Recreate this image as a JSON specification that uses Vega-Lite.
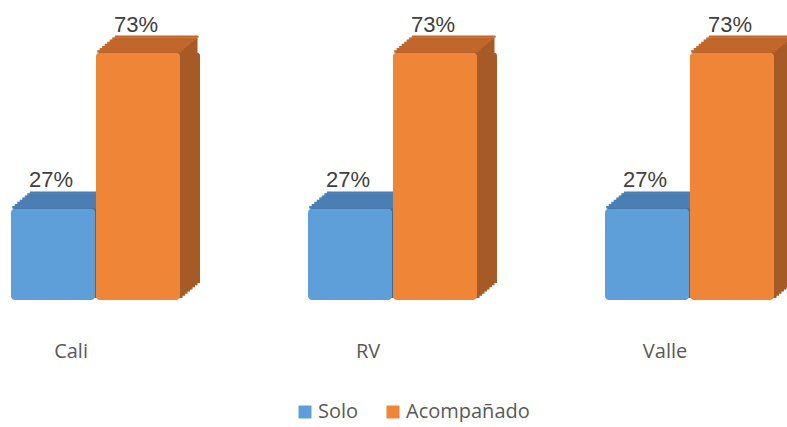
{
  "$schema": "https://vega.github.io/schema/vega-lite/v6.json",
  "padding": {"left": 11, "top": 0, "right": 0, "bottom": 0},
  "background": "white",
  "bounds": "flush",
  "data": {"values": [
    {"region": "Cali", "serie": "Solo", "value": 0.27},
    {"region": "Cali", "serie": "Acompañado", "value": 0.73},
    {"region": "RV", "serie": "Solo", "value": 0.27},
    {"region": "RV", "serie": "Acompañado", "value": 0.73},
    {"region": "Valle", "serie": "Solo", "value": 0.27},
    {"region": "Valle", "serie": "Acompañado", "value": 0.73}
  ]},
  "facet": {"column": {"field": "region", "type": "nominal", "sort": ["Cali", "RV", "Valle"], "header": {"title": null, "labels": false}}},
  "spacing": 128,
  "spec": {
    "width": 169,
    "height": 300,
    "encoding": {
      "x": {"field": "serie", "type": "nominal", "sort": ["Solo", "Acompañado"], "scale": {"paddingInner": 0.01, "paddingOuter": 0}, "axis": null},
      "y": {"field": "value", "type": "quantitative", "scale": {"domain": [0, 0.885]}, "axis": null}
    },
    "layer": [
      {"mark": {"type": "bar", "xOffset": 20, "yOffset": -17, "y2Offset": -17, "cornerRadius": 3}, "encoding": {"fill": {"condition": {"test": "datum.serie == 'Solo'", "value": "#3e6c9c"}, "value": "#a65a26"}}},
      {"mark": {"type": "bar", "xOffset": 17.5, "yOffset": -14.875, "y2Offset": -14.875}, "encoding": {"fill": {"condition": {"test": "datum.serie == 'Solo'", "value": "#3e6c9c"}, "value": "#a65a26"}}},
      {"mark": {"type": "bar", "xOffset": 15, "yOffset": -12.75, "y2Offset": -12.75}, "encoding": {"fill": {"condition": {"test": "datum.serie == 'Solo'", "value": "#3e6c9c"}, "value": "#a65a26"}}},
      {"mark": {"type": "bar", "xOffset": 12.5, "yOffset": -10.625, "y2Offset": -10.625}, "encoding": {"fill": {"condition": {"test": "datum.serie == 'Solo'", "value": "#3e6c9c"}, "value": "#a65a26"}}},
      {"mark": {"type": "bar", "xOffset": 10, "yOffset": -8.5, "y2Offset": -8.5}, "encoding": {"fill": {"condition": {"test": "datum.serie == 'Solo'", "value": "#3e6c9c"}, "value": "#a65a26"}}},
      {"mark": {"type": "bar", "xOffset": 7.5, "yOffset": -6.375, "y2Offset": -6.375}, "encoding": {"fill": {"condition": {"test": "datum.serie == 'Solo'", "value": "#3e6c9c"}, "value": "#a65a26"}}},
      {"mark": {"type": "bar", "xOffset": 5, "yOffset": -4.25, "y2Offset": -4.25}, "encoding": {"fill": {"condition": {"test": "datum.serie == 'Solo'", "value": "#3e6c9c"}, "value": "#a65a26"}}},
      {"mark": {"type": "bar", "xOffset": 2.5, "yOffset": -2.125, "y2Offset": -2.125}, "encoding": {"fill": {"condition": {"test": "datum.serie == 'Solo'", "value": "#3e6c9c"}, "value": "#a65a26"}}},
      {"mark": {"type": "bar", "xOffset": 1.25, "yOffset": -2.4, "y2Offset": 0}, "encoding": {"y2": {"field": "value"}, "fill": {"condition": {"test": "datum.serie == 'Solo'", "value": "#4b7fb4"}, "value": "#c1672c"}}},
      {"mark": {"type": "bar", "xOffset": 3.75, "yOffset": -4.5, "y2Offset": -2.1}, "encoding": {"y2": {"field": "value"}, "fill": {"condition": {"test": "datum.serie == 'Solo'", "value": "#4b7fb4"}, "value": "#c1672c"}}},
      {"mark": {"type": "bar", "xOffset": 6.25, "yOffset": -6.6, "y2Offset": -4.2}, "encoding": {"y2": {"field": "value"}, "fill": {"condition": {"test": "datum.serie == 'Solo'", "value": "#4b7fb4"}, "value": "#c1672c"}}},
      {"mark": {"type": "bar", "xOffset": 8.75, "yOffset": -8.75, "y2Offset": -6.35}, "encoding": {"y2": {"field": "value"}, "fill": {"condition": {"test": "datum.serie == 'Solo'", "value": "#4b7fb4"}, "value": "#c1672c"}}},
      {"mark": {"type": "bar", "xOffset": 11.25, "yOffset": -10.85, "y2Offset": -8.45}, "encoding": {"y2": {"field": "value"}, "fill": {"condition": {"test": "datum.serie == 'Solo'", "value": "#4b7fb4"}, "value": "#c1672c"}}},
      {"mark": {"type": "bar", "xOffset": 13.75, "yOffset": -13.0, "y2Offset": -10.6}, "encoding": {"y2": {"field": "value"}, "fill": {"condition": {"test": "datum.serie == 'Solo'", "value": "#4b7fb4"}, "value": "#c1672c"}}},
      {"mark": {"type": "bar", "xOffset": 16.25, "yOffset": -15.1, "y2Offset": -12.7}, "encoding": {"y2": {"field": "value"}, "fill": {"condition": {"test": "datum.serie == 'Solo'", "value": "#4b7fb4"}, "value": "#c1672c"}}},
      {"mark": {"type": "bar", "xOffset": 18.75, "yOffset": -17.0, "y2Offset": -14.8, "cornerRadius": 2}, "encoding": {"y2": {"field": "value"}, "fill": {"condition": {"test": "datum.serie == 'Solo'", "value": "#4b7fb4"}, "value": "#c1672c"}}},
      {"mark": {"type": "bar", "cornerRadius": 4},
       "encoding": {"color": {"field": "serie", "type": "nominal", "sort": ["Solo", "Acompañado"],
         "scale": {"domain": ["Solo", "Acompañado"], "range": ["#5e9fd9", "#ef8537"]},
         "legend": {"title": null, "orient": "none", "legendX": 284, "legendY": 402, "direction": "horizontal", "symbolType": "square", "symbolSize": 169, "symbolStrokeWidth": 0, "labelFont": "Open Sans", "labelFontSize": 20, "labelColor": "#595959", "labelOffset": 3, "labelLimit": 0, "columnPadding": 24, "padding": 0}}}},
      {"mark": {"type": "text", "baseline": "alphabetic", "dy": -21, "dx": -2, "font": "Liberation Sans", "fontSize": 22, "color": "#404040"},
       "encoding": {"text": {"field": "value", "type": "quantitative", "format": ".0%"}}},
      {"transform": [{"filter": "datum.serie == 'Solo'"}],
       "mark": {"type": "text", "baseline": "alphabetic", "dy": 58, "dx": 18, "font": "Open Sans", "fontSize": 20, "color": "#595959"},
       "encoding": {"y": {"datum": 0, "type": "quantitative"}, "text": {"field": "region", "type": "nominal"}}}
    ]
  },
  "config": {"view": {"stroke": null}}
}
